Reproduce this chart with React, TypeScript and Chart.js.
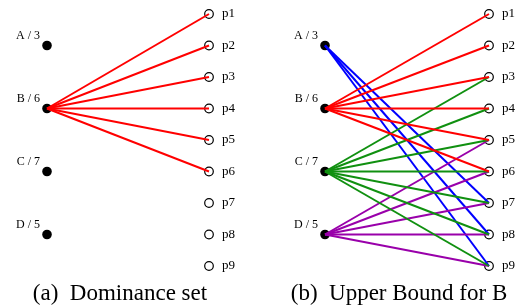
import React, { useEffect, useRef } from "react";
import { Chart, registerables } from "chart.js";

Chart.register(...registerables);

// ---- data ----
const leftLabels = ["A / 3", "B / 6", "C / 7", "D / 5"];
const leftRows = [2, 4, 6, 8]; // vertical position of left nodes (in p-row units)
const rightLabels = ["p1", "p2", "p3", "p4", "p5", "p6", "p7", "p8", "p9"];
const rightRows = [1, 2, 3, 4, 5, 6, 7, 8, 9];

// edges: from left node index to p-numbers
const dominanceB = [1, 2, 3, 4, 5, 6];
const upperA = [7, 8, 9];
const upperB = [1, 2, 3, 4, 5, 6];
const upperC = [3, 4, 5, 6, 7, 8, 9];
const upperD = [5, 6, 7, 8, 9];

const colorA = "#0000ff";
const colorB = "#ff0000";
const colorC = "#109010";
const colorD = "#9900aa";

type EdgeGroup = { from: number; to: number[]; color: string };

const panelA: EdgeGroup[] = [{ from: 1, to: dominanceB, color: colorB }];
const panelB: EdgeGroup[] = [
  { from: 1, to: upperB, color: colorB },
  { from: 2, to: upperC, color: colorC },
  { from: 3, to: upperD, color: colorD },
  { from: 0, to: upperA, color: colorA },
];

function buildDatasets(groups: EdgeGroup[]) {
  const ds: any[] = [];
  groups.forEach((g) => {
    g.to.forEach((p) => {
      ds.push({
        type: "scatter",
        showLine: true,
        data: [
          { x: 0, y: leftRows[g.from] },
          { x: 1, y: rightRows[p - 1] },
        ],
        borderColor: g.color,
        borderWidth: 2,
        pointRadius: 0,
        clip: false,
      });
    });
  });
  ds.push({
    type: "scatter",
    data: leftRows.map((r) => ({ x: 0, y: r })),
    pointRadius: 4.8,
    pointBackgroundColor: "#000",
    pointBorderColor: "#000",
    pointBorderWidth: 0,
    clip: false,
  });
  ds.push({
    type: "scatter",
    data: rightRows.map((r) => ({ x: 1, y: r })),
    pointRadius: 4.3,
    pointBackgroundColor: "rgba(0,0,0,0)",
    pointBorderColor: "#000",
    pointBorderWidth: 1.2,
    clip: false,
  });
  return ds;
}

const labelPlugin = {
  id: "nodeLabels",
  afterDatasetsDraw(chart: any) {
    const ctx = chart.ctx;
    const xs = chart.scales.x;
    const ys = chart.scales.y;
    ctx.save();
    ctx.fillStyle = "#000";
    ctx.textBaseline = "middle";
    ctx.font = '12px "Liberation Serif", serif';
    ctx.textAlign = "right";
    leftLabels.forEach((t, i) => {
      ctx.fillText(t, xs.getPixelForValue(0) - 7, ys.getPixelForValue(leftRows[i]) - 10);
    });
    ctx.font = '13px "Liberation Serif", serif';
    ctx.textAlign = "left";
    rightLabels.forEach((t, i) => {
      ctx.fillText(t, xs.getPixelForValue(1) + 13, ys.getPixelForValue(rightRows[i]));
    });
    ctx.restore();
  },
};

function Panel({ groups, padLeft, padRight, width }: { groups: EdgeGroup[]; padLeft: number; padRight: number; width: number }) {
  const ref = useRef<HTMLCanvasElement>(null);
  useEffect(() => {
    if (!ref.current) return;
    const chart = new Chart(ref.current, {
      type: "scatter",
      data: { datasets: buildDatasets(groups) },
      options: {
        animation: false,
        responsive: false,
        devicePixelRatio: 1,
        layout: { padding: { left: padLeft, right: padRight, top: 14, bottom: 40 } },
        plugins: { legend: { display: false }, tooltip: { enabled: false }, title: { display: false } },
        scales: {
          x: { type: "linear", min: 0, max: 1, display: false },
          y: { type: "linear", min: 1, max: 9, reverse: true, display: false },
        },
        events: [],
      },
      plugins: [labelPlugin],
    } as any);
    return () => chart.destroy();
  }, []);
  return <canvas ref={ref} width={width} height={306} style={{ display: "block" }} />;
}

export default function App() {
  const capStyle: React.CSSProperties = {
    position: "absolute",
    top: 280,
    fontFamily: '"Liberation Serif", serif',
    fontSize: 23,
    lineHeight: "26px",
    textAlign: "center",
    whiteSpace: "pre",
    color: "#000",
  };
  return (
    <div style={{ position: "fixed", left: 0, top: 0, width: 529, height: 306, background: "#fff", overflow: "hidden" }}>
      <div style={{ position: "absolute", left: 0, top: 0 }}>
        <Panel groups={panelA} padLeft={47} padRight={55} width={264} />
      </div>
      <div style={{ position: "absolute", left: 264, top: 0 }}>
        <Panel groups={panelB} padLeft={61} padRight={40} width={265} />
      </div>
      <div style={{ ...capStyle, left: 0, width: 240 }}>{"(a)  Dominance set"}</div>
      <div style={{ ...capStyle, left: 264, width: 270 }}>{"(b)  Upper Bound for B"}</div>
    </div>
  );
}
